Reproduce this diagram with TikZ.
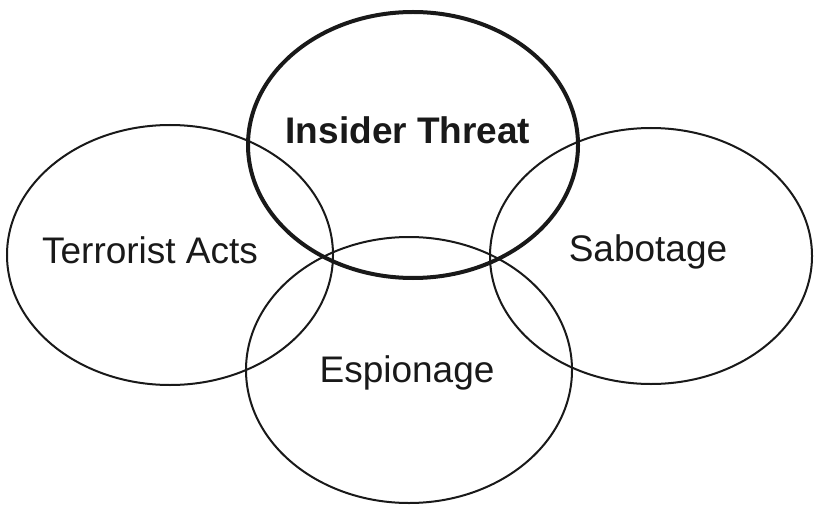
\documentclass[tikz,border=0pt]{standalone}
\usepackage{fontspec}
\setmainfont{Liberation Sans}
\begin{document}
\begin{tikzpicture}[x=1pt,y=-1pt,
  ring/.style={draw=black!90, line width=2pt},
  mainring/.style={draw=black!90, line width=4pt},
  lbl/.style={font=\fontsize{37}{40}\selectfont, text=black!90, inner sep=0pt}]
\useasboundingbox (0,0) rectangle (818,505);
\draw[ring] (170,255) ellipse (163 and 130);
\draw[ring] (651,256) ellipse (161 and 128);
\draw[ring] (409,370) ellipse (163 and 133);
\draw[mainring] (413,145) ellipse (165 and 133);
\node[lbl, font=\fontsize{37}{40}\selectfont\bfseries] (insider) at (408,130) {Insider Threat};
\node[lbl] (terror) at (150,250) {Terrorist Acts};
\node[lbl] (sabot) at (648,252) {Sabotage};
\node[lbl] (espion) at (407,373) {Espionage};
\end{tikzpicture}
\end{document}
